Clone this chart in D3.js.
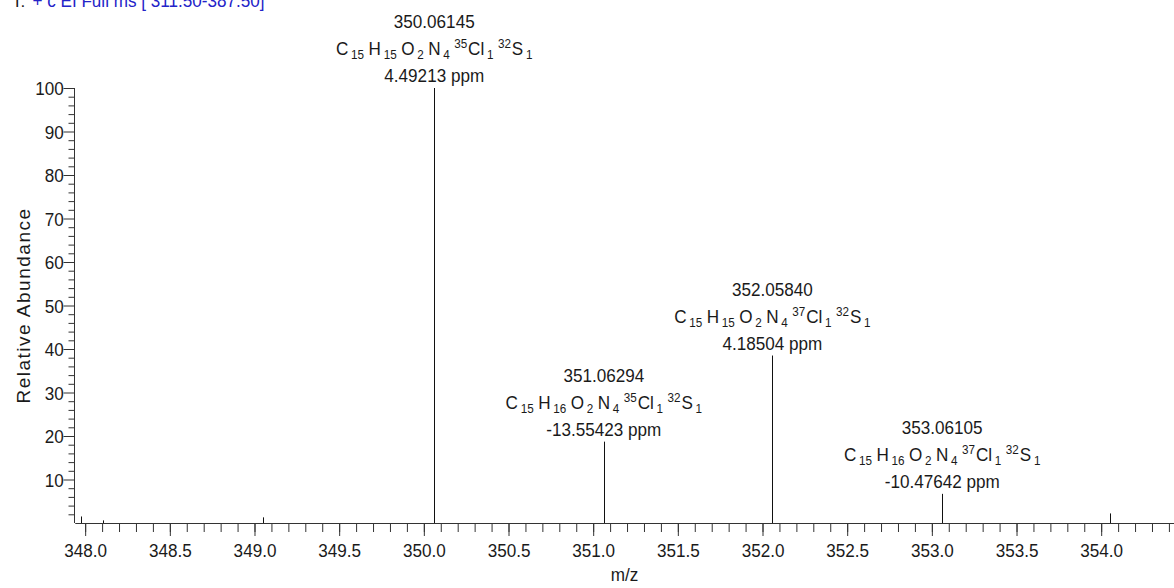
<!DOCTYPE html>
<html>
<head>
<meta charset="utf-8">
<script src="https://cdn.jsdelivr.net/npm/d3@7"></script>
<style>
  html, body { margin: 0; padding: 0; background: #fff; overflow: hidden; }
  svg text { font-family: "Liberation Sans", Arial, sans-serif; fill: #1a1a1a; }
</style>
</head>
<body>
<svg id="chart" width="1174" height="588"></svg>
<script>
// Centroid peaks of the scan (m/z, relative abundance %)
const peakMz = [347.976, 348.104, 349.049, 350.06145, 351.06294, 352.05840, 353.06105, 354.055];
const peakAbundance = [1.5, 0.6, 1.3, 100, 18.7, 38.5, 6.7, 2.2];

// Annotated peaks: measured mass, elemental composition, mass error
const labelMass = ["350.06145", "351.06294", "352.05840", "353.06105"];
const labelFormula = [
  "C15 H15 O2 N4 [35]Cl1 [32]S1",
  "C15 H16 O2 N4 [35]Cl1 [32]S1",
  "C15 H15 O2 N4 [37]Cl1 [32]S1",
  "C15 H16 O2 N4 [37]Cl1 [32]S1"
];
const labelPpm = ["4.49213", "-13.55423", "4.18504", "-10.47642"];

// Axes
const xMajorTicks = [348.0, 348.5, 349.0, 349.5, 350.0, 350.5, 351.0, 351.5, 352.0, 352.5, 353.0, 353.5, 354.0];
const yMajorTicks = [10, 20, 30, 40, 50, 60, 70, 80, 90, 100];
const xDomain = [347.94, 354.43];
const yDomain = [0, 100];
const xTitle = "m/z";
const yTitle = "Relative Abundance";
const scanPrefix = "T:";
const scanFilter = "+ c EI Full ms [ 311.50-387.50]";

const FS = 19;         // base font size
const SX = 0.9;        // horizontal condensing of the text face
const SUB = 13;        // sub/superscript size

const svg = d3.select("#chart");
const x = d3.scaleLinear().domain(xDomain).range([75, 1174]);
const y = d3.scaleLinear().domain(yDomain).range([523, 88]);

const axisColor = "#333";

// x minor ticks every 0.1
const xMinor = d3.range(348.0, 354.45, 0.1).map(v => +v.toFixed(1));
svg.append("g")
  .attr("transform", `translate(0,${y(0)})`)
  .call(d3.axisBottom(x).tickValues(xMinor).tickSize(9).tickSizeOuter(0).tickFormat(""))
  .call(g => g.selectAll("line,path").attr("stroke", axisColor));

const gx = svg.append("g")
  .attr("transform", `translate(0,${y(0)})`)
  .call(d3.axisBottom(x).tickValues(xMajorTicks).tickSize(13).tickSizeOuter(0).tickFormat(d3.format(".1f")));
gx.selectAll("line,path").attr("stroke", axisColor);
gx.selectAll("text")
  .attr("y", 34).attr("dy", null)
  .attr("font-size", FS).attr("font-family", null)
  .attr("transform", `scale(${SX},1)`);

// y minor ticks every 2
const yMinor = d3.range(2, 100, 2).filter(v => v % 10 !== 0);
svg.append("g")
  .attr("transform", `translate(${x(xDomain[0]) - 0.5},0)`)
  .call(d3.axisLeft(y).tickValues(yMinor).tickSize(6).tickSizeOuter(0).tickFormat(""))
  .call(g => g.select("path").remove())
  .call(g => g.selectAll("line").attr("stroke", axisColor));

const gy = svg.append("g")
  .attr("transform", `translate(${x(xDomain[0]) - 0.5},0)`)
  .call(d3.axisLeft(y).tickValues(yMajorTicks).tickSize(11).tickSizeOuter(0).tickFormat(d3.format("d")));
gy.select("path").attr("d", `M0,${y(0)}V${y(100)}`);
gy.selectAll("line,path").attr("stroke", axisColor);
gy.selectAll("text")
  .attr("x", -12)
  .attr("dy", "0.36em")
  .attr("font-size", FS).attr("font-family", null)
  .attr("transform", `scale(${SX},1)`);

// peak sticks
svg.append("g").selectAll("line")
  .data(peakMz.map((m, i) => ({ mz: m, ab: peakAbundance[i] })))
  .join("line")
  .attr("x1", d => Math.round(x(d.mz)) + 0.5).attr("x2", d => Math.round(x(d.mz)) + 0.5)
  .attr("y1", y(0)).attr("y2", d => y(d.ab))
  .attr("stroke", "#111").attr("stroke-width", 1);

// composition with isotope superscripts and count subscripts
function addFormula(text, str) {
  const parts = [...str.matchAll(/(?:\[(\d+)\])?([A-Z][a-z]?)(\d+)/g)];
  let shift = 0;
  parts.forEach((p, i) => {
    const iso = p[1], el = p[2], n = p[3];
    const gap = i === 0 ? 0 : 5;
    if (iso) {
      text.append("tspan").attr("dx", gap).attr("dy", -7 - shift).attr("font-size", SUB).text(iso);
      shift = -7;
    }
    text.append("tspan").attr("dx", iso ? 1 : gap).attr("dy", 0 - shift).attr("font-size", FS).text(el);
    shift = 0;
    text.append("tspan").attr("dx", 3).attr("dy", 4 - shift).attr("font-size", SUB).text(n);
    shift = 4;
  });
}

// annotations above the labelled peaks
labelMass.forEach((mass, i) => {
  const mz = +mass;
  const idx = peakMz.indexOf(mz);
  const px = x(mz);
  const top = y(peakAbundance[idx]);
  const ppmBase = top - 6;
  const formulaBase = ppmBase - 27;
  const massBase = formulaBase - 27;

  const rows = [[massBase, mass], [formulaBase, null], [ppmBase, labelPpm[i] + " ppm"]];
  rows.forEach(([by, str], r) => {
    const t = svg.append("text")
      .attr("transform", `translate(${px},${by}) scale(${SX},1)`)
      .attr("text-anchor", "middle")
      .attr("font-size", FS);
    if (r === 1) addFormula(t, labelFormula[i]);
    else t.text(str);
  });
});

// axis titles
svg.append("text")
  .attr("transform", `translate(${(x.range()[0] + x.range()[1]) / 2},581) scale(${SX},1)`)
  .attr("text-anchor", "middle").attr("font-size", FS)
  .text(xTitle);

svg.append("text")
  .attr("transform", `translate(30,${(y(0) + y(100)) / 2}) rotate(-90)`)
  .attr("text-anchor", "middle").attr("font-size", FS)
  .attr("letter-spacing", 1.5)
  .text(yTitle);

// scan filter header
const hdr = svg.append("text")
  .attr("transform", `translate(12,7) scale(${SX},1)`)
  .attr("font-size", FS);
hdr.append("tspan").text(scanPrefix);
hdr.append("tspan").attr("dx", 8).style("fill", "#2323c8").text(scanFilter);
</script>
</body>
</html>
